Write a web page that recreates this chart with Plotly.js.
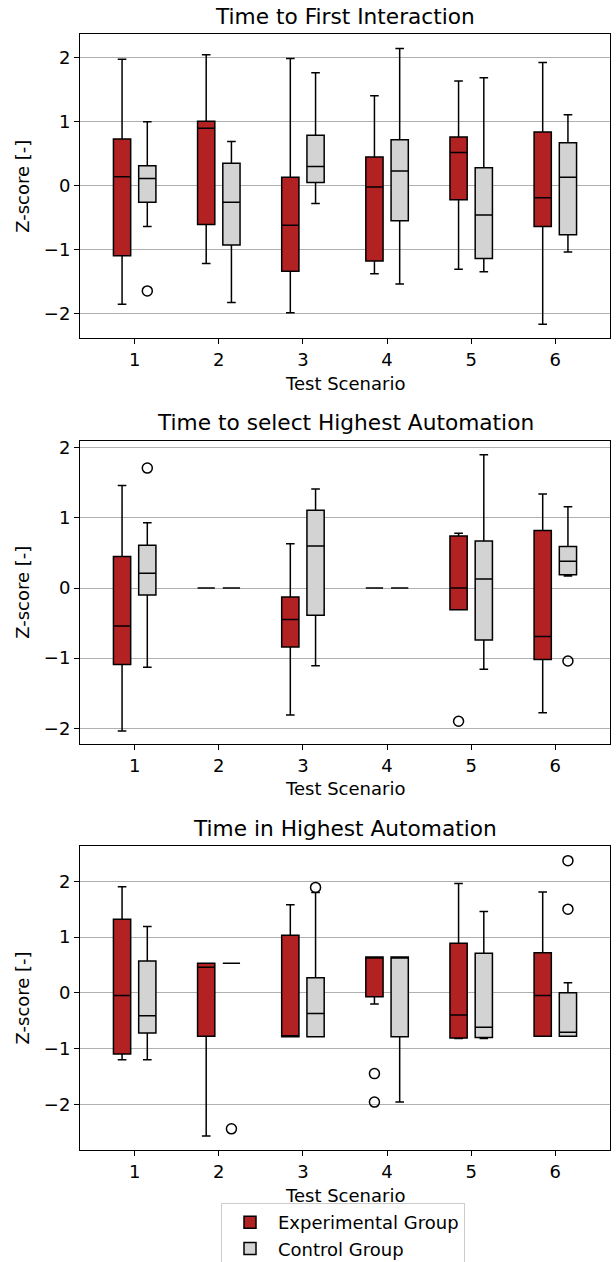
<!DOCTYPE html>
<html><head><meta charset="utf-8">
<script src="https://cdn.plot.ly/plotly-3.0.1.min.js"></script>
<style>html,body{margin:0;padding:0;background:#fff}#chart{width:616px;height:1262px}</style>
</head><body><div id="chart"></div>
<script>
// ---------- data ----------
const scenarios = [1, 2, 3, 4, 5, 6];
const tickLabels = ['1', '2', '3', '4', '5', '6'];
const yTicks = [-2, -1, 0, 1, 2];
const panelTitles = ['Time to First Interaction', 'Time to select Highest Automation', 'Time in Highest Automation'];
const groupNames = ['Experimental Group', 'Control Group'];
const xAxisLabel = 'Test Scenario';
const yAxisLabel = 'Z-score [-]';

// Panel 1: Time to First Interaction
const firstExpHigh = [1.98, 2.05, 1.99, 1.41, 1.64, 1.93];
const firstExpQ3   = [0.73, 1.01, 0.13, 0.45, 0.76, 0.84];
const firstExpMed  = [0.14, 0.90, -0.62, -0.02, 0.52, -0.19];
const firstExpQ1   = [-1.10, -0.61, -1.34, -1.18, -0.22, -0.64];
const firstExpLow  = [-1.86, -1.22, -1.99, -1.38, -1.31, -2.17];
const firstCtrlHigh = [1.00, 0.69, 1.77, 2.15, 1.69, 1.11];
const firstCtrlQ3   = [0.31, 0.35, 0.79, 0.72, 0.28, 0.67];
const firstCtrlMed  = [0.11, -0.26, 0.30, 0.23, -0.46, 0.13];
const firstCtrlQ1   = [-0.26, -0.93, 0.05, -0.55, -1.14, -0.77];
const firstCtrlLow  = [-0.64, -1.83, -0.28, -1.54, -1.35, -1.04];
const firstExpOutX = [];
const firstExpOutY = [];
const firstCtrlOutX = [1];
const firstCtrlOutY = [-1.65];

// Panel 2: Time to select Highest Automation
const selectExpHigh = [1.46, 0, 0.63, 0, 0.78, 1.34];
const selectExpQ3   = [0.45, 0, -0.13, 0, 0.74, 0.82];
const selectExpMed  = [-0.54, 0, -0.45, 0, 0.00, -0.69];
const selectExpQ1   = [-1.09, 0, -0.84, 0, -0.31, -1.02];
const selectExpLow  = [-2.04, 0, -1.81, 0, -0.31, -1.78];
const selectCtrlHigh = [0.93, 0, 1.41, 0, 1.90, 1.16];
const selectCtrlQ3   = [0.61, 0, 1.11, 0, 0.67, 0.59];
const selectCtrlMed  = [0.21, 0, 0.60, 0, 0.13, 0.38];
const selectCtrlQ1   = [-0.10, 0, -0.39, 0, -0.74, 0.19];
const selectCtrlLow  = [-1.13, 0, -1.11, 0, -1.16, 0.17];
const selectExpOutX = [5];
const selectExpOutY = [-1.90];
const selectCtrlOutX = [1, 6];
const selectCtrlOutY = [1.71, -1.04];

// Panel 3: Time in Highest Automation
const inExpHigh = [1.90, 0.53, 1.58, 0.64, 1.96, 1.81];
const inExpQ3   = [1.32, 0.53, 1.03, 0.64, 0.89, 0.72];
const inExpMed  = [-0.05, 0.46, -0.79, 0.64, -0.40, -0.05];
const inExpQ1   = [-1.10, -0.78, -0.79, -0.07, -0.81, -0.78];
const inExpLow  = [-1.20, -2.57, -0.79, -0.20, -0.82, -0.78];
const inCtrlHigh = [1.19, 0.53, 1.80, 0.64, 1.46, 0.18];
const inCtrlQ3   = [0.57, 0.53, 0.27, 0.64, 0.71, 0.00];
const inCtrlMed  = [-0.41, 0.53, -0.37, 0.64, -0.62, -0.71];
const inCtrlQ1   = [-0.72, 0.53, -0.79, -0.79, -0.80, -0.78];
const inCtrlLow  = [-1.20, 0.53, -0.79, -1.96, -0.82, -0.78];
const inExpOutX = [4, 4];
const inExpOutY = [-1.45, -1.96];
const inCtrlOutX = [2, 3, 6, 6];
const inCtrlOutY = [-2.44, 1.89, 2.37, 1.50];

// ---------- assembly ----------
const panels = [
  { exp: [firstExpLow, firstExpQ1, firstExpMed, firstExpQ3, firstExpHigh],
    ctrl: [firstCtrlLow, firstCtrlQ1, firstCtrlMed, firstCtrlQ3, firstCtrlHigh],
    out: [[firstExpOutX, firstExpOutY], [firstCtrlOutX, firstCtrlOutY]] },
  { exp: [selectExpLow, selectExpQ1, selectExpMed, selectExpQ3, selectExpHigh],
    ctrl: [selectCtrlLow, selectCtrlQ1, selectCtrlMed, selectCtrlQ3, selectCtrlHigh],
    out: [[selectExpOutX, selectExpOutY], [selectCtrlOutX, selectCtrlOutY]] },
  { exp: [inExpLow, inExpQ1, inExpMed, inExpQ3, inExpHigh],
    ctrl: [inCtrlLow, inCtrlQ1, inCtrlMed, inCtrlQ3, inCtrlHigh],
    out: [[inExpOutX, inExpOutY], [inCtrlOutX, inCtrlOutY]] }
];

const W = 616, H = 1262, ML = 80, MR = 6;
const PW = W - ML - MR;
const px2x = px => (px - ML) / PW;
const py2y = py => 1 - py / H;

// plot-area pixel bounds (top, bottom) and y ranges
const frames = [[34.3, 338.3], [440.7, 744], [846, 1150]];
const yRanges = [[-2.392, 2.371], [-2.224, 2.10], [-2.82, 2.633]];
const titleY = [17, 422.7, 828.3];
const xLabelY = [383.3, 788.3, 1195];

const fills = ['#b22222', '#d3d3d3'];
const groupOffset = [-0.15, 0.15];
const BOX_W = 0.205;
const FONT = 'DejaVu Sans, sans-serif';
const FS = 18, TFS = 21.7;

const traces = [];
const layout = {
  width: W, height: H,
  margin: { l: ML, r: MR, t: 0, b: 0, autoexpand: false },
  paper_bgcolor: '#fff', plot_bgcolor: '#fff',
  font: { family: FONT, size: FS, color: '#000' },
  boxmode: 'overlay',
  hovermode: false,
  showlegend: true,
  legend: {
    xref: 'container', yref: 'container',
    x: 221 / W, y: 1 - 1203 / H, xanchor: 'left', yanchor: 'top',
    bordercolor: '#cccccc', borderwidth: 1, bgcolor: '#fff',
    font: { family: FONT, size: FS, color: '#000' },
    itemwidth: 46, tracegroupgap: 0
  },
  annotations: []
};

panels.forEach((p, i) => {
  const n = i + 1;
  const xa = 'x' + (n === 1 ? '' : n), ya = 'y' + (n === 1 ? '' : n);
  [p.exp, p.ctrl].forEach((s, g) => {
    traces.push({
      type: 'box', name: groupNames[g], legendgroup: groupNames[g], showlegend: i === 0,
      x: scenarios.map(v => v + groupOffset[g]), width: BOX_W,
      lowerfence: s[0], q1: s[1], median: s[2], q3: s[3], upperfence: s[4],
      xaxis: xa, yaxis: ya, boxpoints: false,
      fillcolor: fills[g], line: { color: '#000', width: 1.5 }, whiskerwidth: 0.5,
      hoverinfo: 'skip'
    });
  });
  p.out.forEach((o, g) => {
    if (!o[0].length) return;
    traces.push({
      type: 'scatter', mode: 'markers', showlegend: false,
      x: o[0].map(v => v + groupOffset[g]), y: o[1],
      xaxis: xa, yaxis: ya,
      marker: { symbol: 'circle-open', size: 10, color: '#000', line: { width: 1.5, color: '#000' } },
      hoverinfo: 'skip'
    });
  });
  const dom = [py2y(frames[i][1]), py2y(frames[i][0])];
  layout['xaxis' + (n === 1 ? '' : n)] = {
    domain: [0, 1], anchor: ya, range: [0.35, 6.65],
    tickmode: 'array', tickvals: scenarios, ticktext: tickLabels,
    ticks: 'outside', ticklen: 5, tickwidth: 1, tickcolor: '#000',
    showline: true, mirror: true, linecolor: '#000', linewidth: 1,
    showgrid: false, zeroline: false, tickfont: { size: FS }, fixedrange: true,
    automargin: false
  };
  layout['yaxis' + (n === 1 ? '' : n)] = {
    domain: dom, anchor: xa, range: yRanges[i],
    tickmode: 'array', tickvals: yTicks,
    ticks: 'outside', ticklen: 5, tickwidth: 1, tickcolor: '#000',
    showline: true, mirror: true, linecolor: '#000', linewidth: 1,
    showgrid: true, gridcolor: '#b0b0b0', gridwidth: 1, zeroline: false,
    tickfont: { size: FS }, fixedrange: true, automargin: false
  };
  layout.annotations.push(
    { text: panelTitles[i], xref: 'paper', yref: 'paper', x: 0.5, y: py2y(titleY[i]),
      xanchor: 'center', yanchor: 'middle', showarrow: false, font: { size: TFS } },
    { text: xAxisLabel, xref: 'paper', yref: 'paper', x: 0.5, y: py2y(xLabelY[i]),
      xanchor: 'center', yanchor: 'middle', showarrow: false, font: { size: FS } },
    { text: yAxisLabel, xref: 'paper', yref: 'paper', x: px2x(22.5),
      y: py2y((frames[i][0] + frames[i][1]) / 2), textangle: -90,
      xanchor: 'center', yanchor: 'middle', showarrow: false, font: { size: FS } }
  );
});

Plotly.newPlot('chart', traces, layout, { staticPlot: true, displayModeBar: false });
</script>
</body></html>
